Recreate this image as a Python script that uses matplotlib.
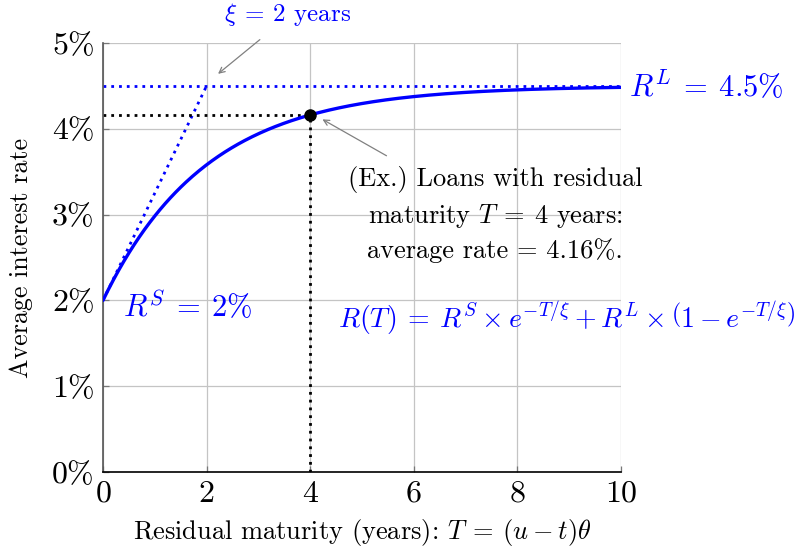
import numpy as np
import matplotlib
matplotlib.use('Agg')
import matplotlib.pyplot as plt
from matplotlib.ticker import FuncFormatter

# ---------------------------------------------------------------------------
# Rate model parameters (all in % / years)
# ---------------------------------------------------------------------------
R_SHORT = 2.0        # R^S
R_LONG = 4.5         # R^L
XI = 2.0             # decay length xi (years)
T_EXAMPLE = 4.0      # example residual maturity
RATE_EXAMPLE = 4.16  # average rate at T_EXAMPLE

X_TICKS = [0, 2, 4, 6, 8, 10]
Y_TICKS = [0, 1, 2, 3, 4, 5]

BLUE = '#0000ff'
GRID_C = '#c4c4c4'
ARROW_C = '#808080'

plt.rcParams['font.family'] = 'serif'
plt.rcParams['font.serif'] = ['cmr10']
plt.rcParams['mathtext.fontset'] = 'cm'
plt.rcParams['axes.formatter.use_mathtext'] = True

# Curve R(T) = R^S e^{-T/xi} + R^L (1 - e^{-T/xi})
T = np.linspace(0, X_TICKS[-1], 400)
decay = np.exp(-T / XI)
R = R_SHORT * decay + R_LONG * (1 - decay)

fig = plt.figure(figsize=(8.02, 5.5), dpi=100)
ax = fig.add_axes([0.1284, 0.1418, 0.6459, 0.78])

ax.set_xlim(X_TICKS[0], X_TICKS[-1])
ax.set_ylim(Y_TICKS[0], Y_TICKS[-1])
ax.set_xticks(X_TICKS)
ax.set_yticks(Y_TICKS)
ax.yaxis.set_major_formatter(FuncFormatter(lambda v, _: f'{v:g}%'))
ax.grid(True, color=GRID_C, linewidth=0.9)
ax.set_axisbelow(True)
ax.tick_params(direction='in', length=4, width=0.9, color='#777777',
               labelsize=23, pad=6)
ax.spines['top'].set_visible(False)
ax.spines['right'].set_visible(False)
ax.spines['left'].set_color('#555555')
ax.spines['left'].set_linewidth(1.2)
ax.spines['bottom'].set_color('black')
ax.spines['bottom'].set_linewidth(1.2)

dots = dict(linestyle=(0, (1, 1.8)), linewidth=2.0)

# Long-run level and initial tangent
ax.plot([X_TICKS[0], X_TICKS[-1]], [R_LONG, R_LONG], color=BLUE, **dots)
ax.plot([0, XI], [R_SHORT, R_LONG], color=BLUE, **dots)

# Example maturity guides
ax.plot([0, T_EXAMPLE], [RATE_EXAMPLE, RATE_EXAMPLE], color='black', **dots)
ax.plot([T_EXAMPLE, T_EXAMPLE], [0, RATE_EXAMPLE], color='black', **dots)

ax.plot(T, R, color=BLUE, linewidth=2.4, solid_capstyle='round', zorder=4)
ax.plot([T_EXAMPLE], [RATE_EXAMPLE], 'o', color='black', markersize=8, zorder=5)

# Labels on the curve
ax.text(10.15, R_LONG, r'$R^L\:=\:4.5\%$', color=BLUE, fontsize=22,
        ha='left', va='center', clip_on=False)
ax.text(0.38, 1.93, r'$R^S\:=\:2\%$', color=BLUE, fontsize=22,
        ha='left', va='center')

ax.text(3.57, 5.33, r'$\xi\:=\:2$ years', color=BLUE, fontsize=18,
        ha='center', va='center', clip_on=False)
ax.annotate('', xy=(2.18, 4.62), xytext=(3.07, 5.06), annotation_clip=False,
            arrowprops=dict(arrowstyle='->', color=ARROW_C, lw=0.9))

ax.text(7.57, 3.0,
        '(Ex.) Loans with residual\n'
        r'maturity $T\:=\:4$ years:' '\n'
        'average rate = 4.16%.',
        fontsize=19, ha='center', va='center', linespacing=1.4)
ax.annotate('', xy=(4.19, 4.126), xytext=(5.52, 3.67),
            arrowprops=dict(arrowstyle='->', color=ARROW_C, lw=0.9))

ax.text(8.96, 1.79,
        r'$R(T)\:=\:R^S \times e^{-T/\xi} + R^L \times \left(1 - e^{-T/\xi}\right)$',
        color=BLUE, fontsize=20, ha='center', va='center', clip_on=False)

ax.set_xlabel(r'Residual maturity (years): $T\:=\:(u - t)\theta$', fontsize=19)
ax.set_ylabel('Average interest rate', fontsize=18.7)
ax.xaxis.set_label_coords(0.5, -0.105)
ax.yaxis.set_label_coords(-0.135, 0.5)

fig.savefig('out.png', dpi=100)
